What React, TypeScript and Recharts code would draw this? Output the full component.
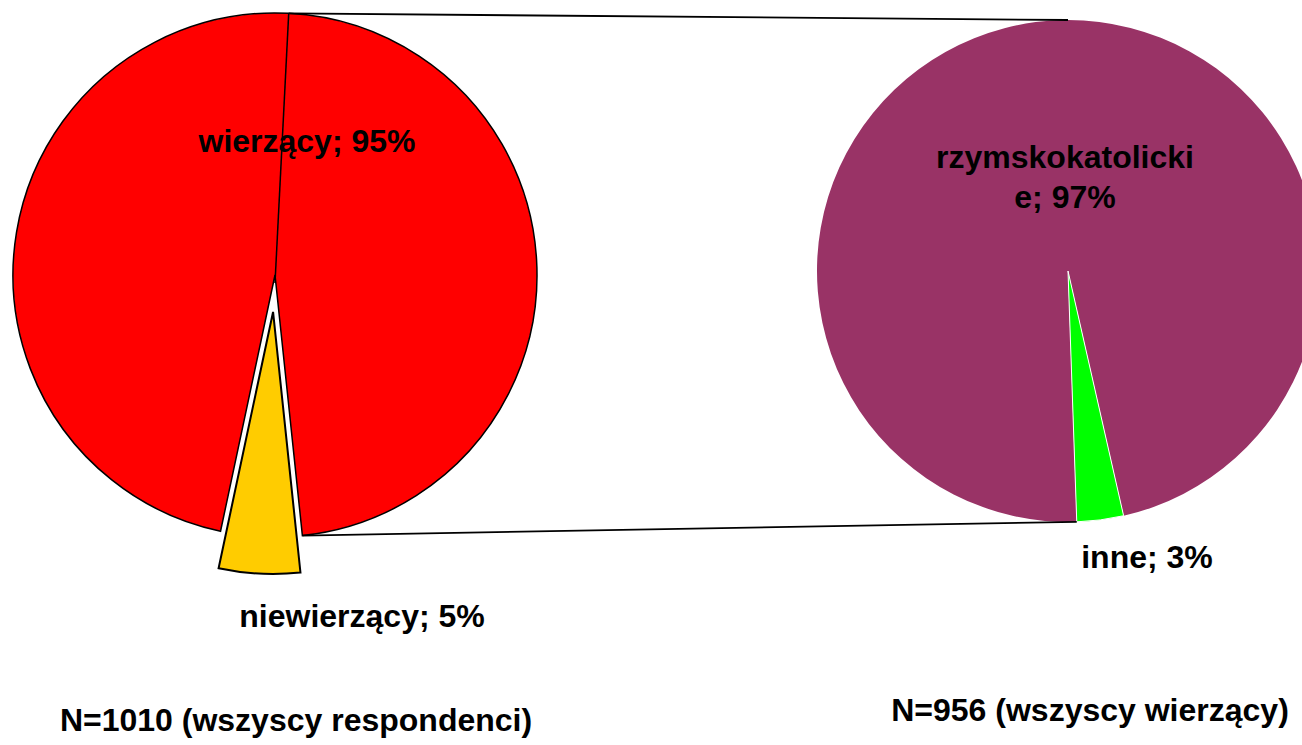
import React from 'react';
import { PieChart, Pie, Cell } from 'recharts';

// left pie: all respondents
const leftCategories = ['wierzący', 'niewierzący'];
const leftValues = [95, 5];
// right pie: breakdown of believers
const rightCategories = ['rzymskokatolickie', 'inne'];
const rightValues = [97, 3];
const footnotes = ['N=1010 (wszyscy respondenci)', 'N=956 (wszyscy wierzący)'];

const leftColors = ['#FF0000', '#FFCC00'];
const rightColors = ['#993366', '#00FF00'];

const W = 1302;
const H = 745;
const FONT = '"Liberation Sans", Arial, sans-serif';
const FS = 32;

const L = { cx: 275, cy: 275, r: 262, start: -102 };
const R = { cx: 1068, cy: 271, r: 251, start: -88 };
const EXPLODE = 37;

const leftData = leftCategories.map((name, i) => ({ name, value: leftValues[i] }));
const rightData = rightCategories.map((name, i) => ({ name, value: rightValues[i] }));

// label anchors relative to pie centre (text centre x, first baseline y)
const leftLabelOffsets = [[32, -123], [87, 352]];
const rightLabelOffsets = [[-3, -103], [79, 297]];

const wrap = (s: string, n: number) => {
    const out: string[] = [];
    for (let i = 0; i < s.length; i += n) out.push(s.slice(i, i + n));
    return out;
};

const makeLabel = (offsets: number[][]) => (props: any) => {
    const { cx, cy, index, name, value } = props;
    const [dx, dy] = offsets[index];
    const lines = wrap(`${name}; ${value}%`, 16);
    return (
        <text
            key={`lbl-${index}`}
            x={cx + dx}
            y={cy + dy}
            textAnchor="middle"
            fontFamily={FONT}
            fontWeight="bold"
            fontSize={FS}
            fill="#000"
        >
            {lines.map((l, i) => (
                <tspan key={i} x={cx + dx} dy={i === 0 ? 0 : 40}>
                    {l}
                </tspan>
            ))}
        </text>
    );
};

// point on a circle, angle measured clockwise from 12 o'clock
const pt = (c: { cx: number; cy: number; r: number }, deg: number) => {
    const a = (deg * Math.PI) / 180;
    return [c.cx + c.r * Math.sin(a), c.cy - c.r * Math.cos(a)];
};

export default function App() {
    const total = leftValues.reduce((a, b) => a + b, 0);
    const yellowMid = L.start - ((leftValues[0] + leftValues[1] / 2) / total) * 360;
    const ex = Math.cos((yellowMid * Math.PI) / 180) * EXPLODE;
    const ey = -Math.sin((yellowMid * Math.PI) / 180) * EXPLODE;

    // red slice ends where yellow begins (clockwise degrees from top)
    const redEnd = 90 - L.start + (leftValues[0] / total) * 360;
    const greenEnd = 90 - R.start + 360;

    const lt = pt(L, 3);
    const lb = pt(L, redEnd);
    const rt = pt(R, 0);
    const rb = pt(R, greenEnd);

    return (
        <div style={{ position: 'absolute', left: 0, top: 0, width: W, height: H, background: '#fff' }}>
            <PieChart width={W} height={H} margin={{ top: 0, right: 0, bottom: 0, left: 0 }}>
                <Pie
                    data={leftData}
                    dataKey="value"
                    nameKey="name"
                    cx={L.cx}
                    cy={L.cy}
                    outerRadius={L.r}
                    startAngle={L.start}
                    endAngle={L.start - 360}
                    label={makeLabel(leftLabelOffsets)}
                    labelLine={false}
                    isAnimationActive={false}
                >
                    <Cell fill={leftColors[0]} stroke="#000" strokeWidth={1.5} />
                    <Cell fill="none" stroke="none" />
                </Pie>
                <Pie
                    data={leftData}
                    dataKey="value"
                    cx={L.cx + ex}
                    cy={L.cy + ey}
                    outerRadius={L.r}
                    startAngle={L.start}
                    endAngle={L.start - 360}
                    label={false}
                    labelLine={false}
                    isAnimationActive={false}
                >
                    <Cell fill="none" stroke="none" />
                    <Cell fill={leftColors[1]} stroke="#000" strokeWidth={2} />
                </Pie>
                <Pie
                    data={rightData}
                    dataKey="value"
                    nameKey="name"
                    cx={R.cx}
                    cy={R.cy}
                    outerRadius={R.r}
                    startAngle={R.start}
                    endAngle={R.start - 360}
                    label={makeLabel(rightLabelOffsets)}
                    labelLine={false}
                    isAnimationActive={false}
                >
                    <Cell fill={rightColors[0]} stroke="none" />
                    <Cell fill={rightColors[1]} stroke="#fff" strokeWidth={1} />
                </Pie>
            </PieChart>
            <svg width={W} height={H} style={{ position: 'absolute', left: 0, top: 0, pointerEvents: 'none' }}>
                <line x1={L.cx} y1={L.cy + 8} x2={lt[0]} y2={lt[1]} stroke="#000" strokeWidth={1.5} />
                <line x1={lt[0]} y1={lt[1]} x2={rt[0]} y2={rt[1]} stroke="#000" strokeWidth={1.8} />
                <line x1={lb[0]} y1={lb[1]} x2={rb[0]} y2={rb[1]} stroke="#000" strokeWidth={1.8} />
                <text x={296} y={731} textAnchor="middle" fontFamily={FONT} fontWeight="bold" fontSize={FS}>
                    {footnotes[0]}
                </text>
                <text x={1090} y={721} textAnchor="middle" fontFamily={FONT} fontWeight="bold" fontSize={FS}>
                    {footnotes[1]}
                </text>
            </svg>
        </div>
    );
}
